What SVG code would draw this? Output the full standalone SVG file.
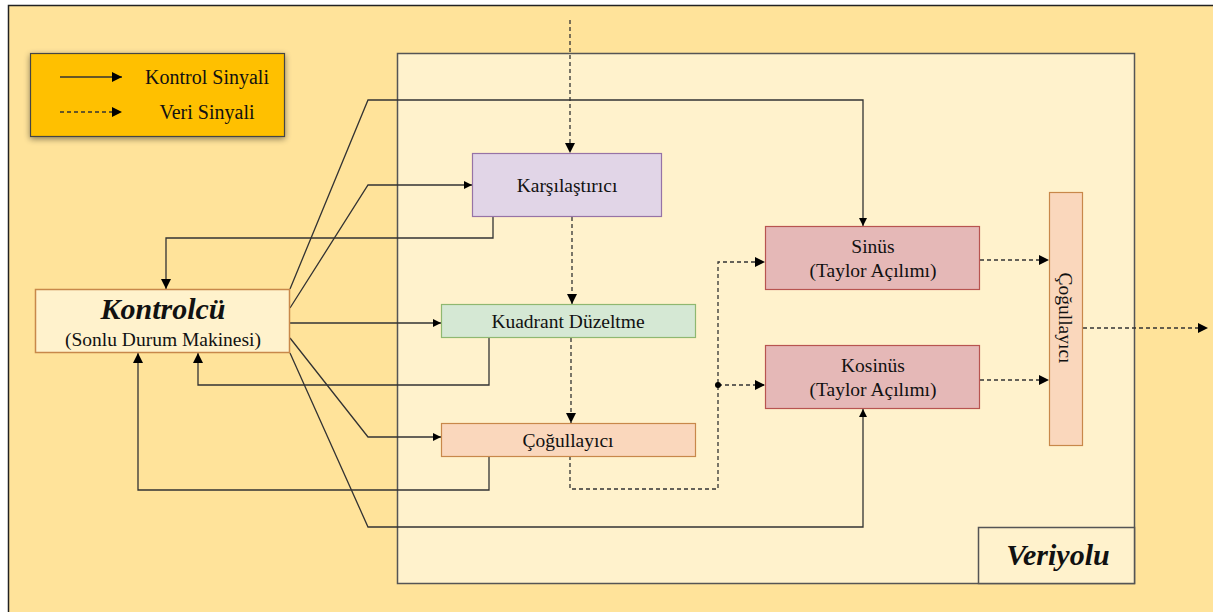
<svg xmlns="http://www.w3.org/2000/svg" width="1213" height="612" viewBox="0 0 1213 612">
  <style>
    .ctl { fill: none; stroke: #333; stroke-width: 1.3; }
    .dat { fill: none; stroke: #333; stroke-width: 1.3; stroke-dasharray: 4 3; }
  </style>
  <defs>
    <marker id="ah" viewBox="0 0 10 10" refX="10" refY="5" markerWidth="10" markerHeight="10" markerUnits="userSpaceOnUse" orient="auto">
      <path d="M0,0 L10,5 L0,10 z" fill="#000"/>
    </marker>
    <marker id="ahs" viewBox="0 0 10 10" refX="10" refY="5" markerWidth="8" markerHeight="9" markerUnits="userSpaceOnUse" orient="auto">
      <path d="M0,0 L10,5 L0,10 z" fill="#000"/>
    </marker>
    <filter id="shadow" x="-10%" y="-20%" width="120%" height="150%">
      <feGaussianBlur in="SourceAlpha" stdDeviation="3"/>
      <feOffset dx="0" dy="2" result="b"/>
      <feComponentTransfer><feFuncA type="linear" slope="0.45"/></feComponentTransfer>
      <feMerge><feMergeNode/><feMergeNode in="SourceGraphic"/></feMerge>
    </filter>
  </defs>

  <!-- page -->
  <rect width="1213" height="612" fill="#ffffff"/>
  <rect x="8.5" y="5.5" width="1220" height="620" fill="#FFE39A" stroke="#222" stroke-width="1.5"/>

  <g font-family="Liberation Serif, Times New Roman, serif" fill="#111" text-anchor="middle" font-size="19.5">

  <!-- data bus region -->
  <g id="veriyolu">
    <rect x="397.5" y="53.5" width="737" height="530" fill="#FFF2CC" stroke="#555" stroke-width="1.5"/>
    <rect x="978.5" y="527.5" width="156" height="56" fill="#FFF2CC" stroke="#555" stroke-width="1.5"/>
    <text x="1058" y="565" font-size="30" font-weight="bold" font-style="italic">Veriyolu</text>
  </g>

  <!-- legend -->
  <g id="legend">
    <rect x="30.5" y="53.5" width="254" height="83" fill="#FFC000" stroke="#444" stroke-width="1.2" filter="url(#shadow)"/>
    <line x1="60" y1="77" x2="122" y2="77" class="ctl" marker-end="url(#ah)"/>
    <line x1="60" y1="112" x2="122" y2="112" class="dat" marker-end="url(#ah)"/>
    <text x="207" y="84" font-size="20">Kontrol Sinyali</text>
    <text x="207" y="119" font-size="20">Veri Sinyali</text>
  </g>

  <!-- connectors -->
  <g id="connectors">
    <!-- data paths -->
    <path class="dat" d="M570,20 V153" marker-end="url(#ah)"/>
    <path class="dat" d="M572,217 V304" marker-end="url(#ah)"/>
    <path class="dat" d="M571,338 V423" marker-end="url(#ah)"/>
    <path class="dat" d="M570,456 V489 H718 V262 H765" marker-end="url(#ah)"/>
    <path class="dat" d="M718,385 H765" marker-end="url(#ah)"/>
    <circle cx="718" cy="385" r="3" fill="#000"/>
    <path class="dat" d="M980,260 H1049" marker-end="url(#ah)"/>
    <path class="dat" d="M980,380 H1049" marker-end="url(#ah)"/>
    <path class="dat" d="M1083,328 H1208" marker-end="url(#ah)"/>
    <!-- control paths -->
    <path class="ctl" d="M290,289 L368,100 H863 V226" marker-end="url(#ahs)"/>
    <path class="ctl" d="M290,308 L368,185 H472" marker-end="url(#ahs)"/>
    <path class="ctl" d="M493,217 V238 H166 V289" marker-end="url(#ah)"/>
    <path class="ctl" d="M290,323 H441" marker-end="url(#ahs)"/>
    <path class="ctl" d="M489,338 V385 H198 V353" marker-end="url(#ah)"/>
    <path class="ctl" d="M290,338 L368,437 H441" marker-end="url(#ahs)"/>
    <path class="ctl" d="M489,456 V490 H138 V353" marker-end="url(#ah)"/>
    <path class="ctl" d="M290,353 L368,527 H863 V409" marker-end="url(#ahs)"/>
  </g>

  <!-- nodes -->
  <g id="kontrolcu">
    <rect x="35.5" y="289.5" width="254" height="63" fill="#FFF2CC" stroke="#C8884A" stroke-width="1.5"/>
    <text x="163" y="319" font-size="30" font-weight="bold" font-style="italic">Kontrolcü</text>
    <text x="163" y="346">(Sonlu Durum Makinesi)</text>
  </g>
  <g id="karsilastirici">
    <rect x="472.5" y="153.5" width="189" height="63" fill="#E1D5E7" stroke="#9673A6" stroke-width="1.2"/>
    <text x="567" y="192">Karşılaştırıcı</text>
  </g>
  <g id="kuadrant">
    <rect x="441.5" y="304.5" width="254" height="33" fill="#D5E8D4" stroke="#8FB870" stroke-width="1.2"/>
    <text x="568" y="328">Kuadrant Düzeltme</text>
  </g>
  <g id="cogullayici1">
    <rect x="441.5" y="423.5" width="254" height="33" fill="#FAD7BC" stroke="#C8884A" stroke-width="1.2"/>
    <text x="568" y="447">Çoğullayıcı</text>
  </g>
  <g id="sinus">
    <rect x="765.5" y="226.5" width="214" height="63" fill="#E5B8B7" stroke="#B85450" stroke-width="1.2"/>
    <text x="873" y="253">Sinüs</text>
    <text x="873" y="277">(Taylor Açılımı)</text>
  </g>
  <g id="kosinus">
    <rect x="765.5" y="345.5" width="214" height="63" fill="#E5B8B7" stroke="#B85450" stroke-width="1.2"/>
    <text x="873" y="372">Kosinüs</text>
    <text x="873" y="396">(Taylor Açılımı)</text>
  </g>
  <g id="cogullayici2">
    <rect x="1049.5" y="192.5" width="33" height="253" fill="#FAD7BC" stroke="#C8884A" stroke-width="1.2"/>
    <text transform="translate(1059,318) rotate(90)" x="0" y="0">Çoğullayıcı</text>
  </g>

  </g>
</svg>
